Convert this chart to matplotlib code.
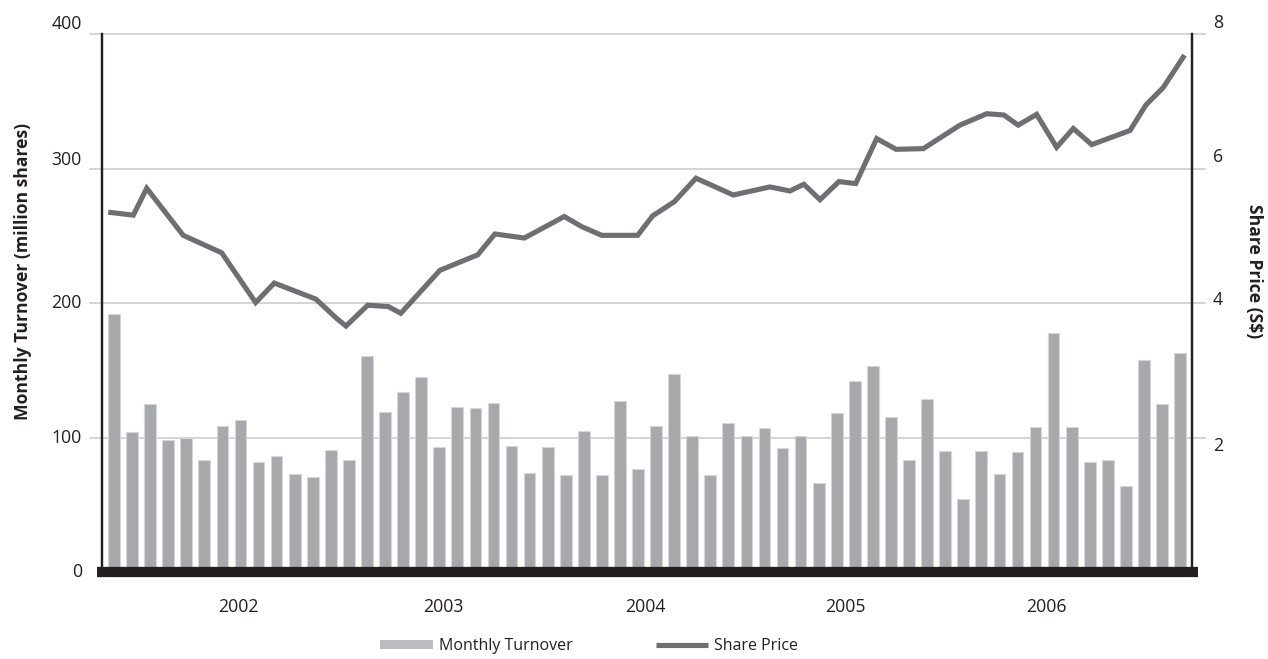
import matplotlib
matplotlib.use("Agg")
import matplotlib.pyplot as plt
import matplotlib.transforms as mtransforms
from matplotlib.patches import Patch
from matplotlib.lines import Line2D
import numpy as np

plt.rcParams['font.family'] = ['Open Sans', 'DejaVu Sans']

# ---------------- data ----------------
turnover = [192, 104, 125, 98, 100, 83, 109, 113, 82, 86, 73, 71, 91, 83, 161, 119, 134, 145, 93, 123,
            122, 126, 94, 74, 93, 72, 105, 72, 127, 77, 109, 147, 101, 72, 111, 101, 107, 92, 101, 66,
            118, 142, 153, 115, 83, 129, 90, 54, 90, 73, 89, 108, 178, 108, 82, 83, 64, 158, 125, 163]

price_x = [-0.18, 1.07, 1.81, 3.83, 5.96, 7.84, 8.87, 11.18, 12.29, 12.84, 14.04, 15.18, 15.87, 18.04,
           20.13, 21.08, 22.71, 24.92, 25.88, 26.99, 28.98, 29.81, 31.01, 32.21, 34.27, 36.30, 37.41,
           38.18, 39.07, 40.12, 41.05, 42.21, 43.28, 44.79, 46.82, 48.30, 49.25, 50.04, 51.06, 52.17,
           53.09, 54.11, 56.23, 57.11, 58.07, 59.17]
price = [5.35, 5.31, 5.71, 5.01, 4.75, 4.01, 4.30, 4.06, 3.78, 3.66, 3.97, 3.95, 3.85, 4.49,
         4.72, 5.03, 4.97, 5.29, 5.14, 5.01, 5.01, 5.30, 5.51, 5.86, 5.61, 5.73, 5.67,
         5.77, 5.54, 5.81, 5.78, 6.45, 6.29, 6.30, 6.65, 6.82, 6.80, 6.65, 6.81, 6.32,
         6.60, 6.36, 6.57, 6.95, 7.21, 7.66]

year_labels = ['2002', '2003', '2004', '2005', '2006']
year_pos = [6.9, 18.2, 29.4, 40.5, 51.6]

left_ticks = [0, 100, 200, 300, 400]
right_ticks = [2, 4, 6, 8]

# ---------------- figure ----------------
W, H = 1268, 659
fig = plt.figure(figsize=(W / 100, H / 100), dpi=100)
L, R, B, T = 102, 1192, 572, 34.4
ax = fig.add_axes([L / W, 1 - B / H, (R - L) / W, (B - T) / H])
ax2 = ax.twinx()

bar_col = '#a7a8ab'
line_col = '#6e6f71'
dark = '#231f20'
grid_col = '#c9c9c9'

x = np.arange(len(turnover))
ax.bar(x, turnover, width=0.65, color=bar_col, edgecolor='#d6d6d8', linewidth=0.8, zorder=2)
ax.set_xlim(-0.664, 59.66)
ax.set_ylim(0, 400)
ax2.set_ylim(0, 8)

ax2.plot(price_x, price, color=line_col, lw=3.7, solid_joinstyle='miter', zorder=5)

# grid lines extending beyond spines
gx0 = (90 - L) / (R - L)
gx1 = (1205 - L) / (R - L)
for v in left_ticks[1:]:
    ax.axhline(v, xmin=gx0, xmax=gx1, color=grid_col, lw=1.1, clip_on=False, zorder=1)

for a in (ax, ax2):
    a.set_xticks([])
    a.set_yticks([])
    for s in ('top', 'bottom'):
        a.spines[s].set_visible(False)
    a.spines['left'].set_color(dark)
    a.spines['right'].set_color(dark)
    a.spines['left'].set_linewidth(1.6)
    a.spines['right'].set_linewidth(1.6)

# thick base bar
bx0 = (97 - L) / (R - L)
bx1 = (1198 - L) / (R - L)
ax2.plot([bx0, bx1], [0.0, 0.0], transform=ax2.transAxes, color=dark, lw=7.4,
         solid_capstyle='butt', clip_on=False, zorder=6)

fs = 12.7
txt_col = '#231f20'
# left tick labels
lt = ax.get_yaxis_transform()
left_off = {0: 0, 100: 0, 200: 0, 300: 9, 400: 10}
for v in left_ticks:
    ax.annotate(str(v), xy=((82 - L) / (R - L), v), xycoords=lt,
                xytext=(0, left_off[v]), textcoords='offset pixels',
                ha='right', va='center', fontsize=fs, color=txt_col)
rt = ax2.get_yaxis_transform()
right_off = {2: -8, 4: 3, 6: 12, 8: 11}
for v in right_ticks:
    ax2.annotate(str(v), xy=((1213 - L) / (R - L), v), xycoords=rt,
                 xytext=(0, right_off[v]), textcoords='offset pixels',
                 ha='left', va='center', fontsize=fs, color=txt_col)

# year labels
yt = mtransforms.blended_transform_factory(ax.transData, fig.transFigure)
for p, lab in zip(year_pos, year_labels):
    ax.text(p, 1 - 607 / H, lab, transform=yt, ha='center', va='center',
            fontsize=fs, color=txt_col)

# axis titles
fig.text(23 / W, 1 - 271 / H, 'Monthly Turnover (million shares)', rotation=90,
         ha='center', va='center', fontsize=12.6, fontweight='bold', color=txt_col)
fig.text(1254 / W, 1 - 271 / H, 'Share Price (S$)', rotation=270,
         ha='center', va='center', fontsize=12.6, fontweight='bold', color=txt_col)

# legend
handles = [Patch(facecolor='#bcbcbe', edgecolor='none', label='Monthly Turnover'),
           Line2D([0], [0], color=line_col, lw=3.7, solid_capstyle='butt', label='Share Price')]
fig.legend(handles=handles, loc='center left', bbox_to_anchor=(380 / W, 1 - 646 / H),
           ncol=2, frameon=False, fontsize=11.5, handlelength=3.3, handleheight=0.55,
           handletextpad=0.38, columnspacing=5.2, borderaxespad=0, borderpad=0,
           labelcolor=txt_col)

fig.savefig('out.png', dpi=100)
